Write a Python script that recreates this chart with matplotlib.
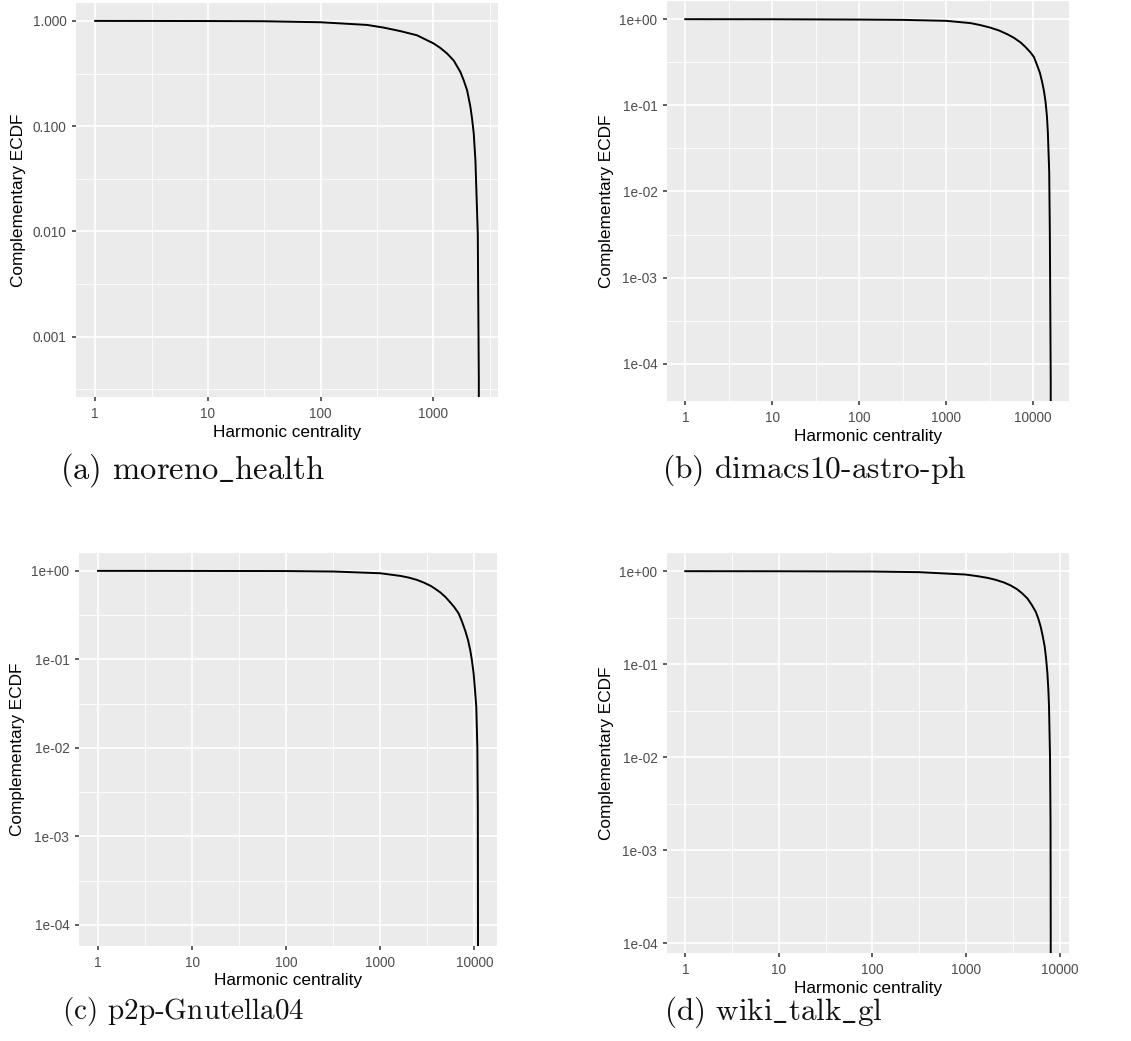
import numpy as np
import matplotlib
matplotlib.use('Agg')
import matplotlib.pyplot as plt
from matplotlib.ticker import FixedLocator, NullFormatter

plt.rcParams['font.family'] = ['Liberation Sans', 'DejaVu Sans']
plt.rcParams['mathtext.fontset'] = 'cm'

# complementary ECDF of harmonic centrality
moreno_x = [1, 3, 10, 31, 100, 258, 363, 511, 718, 1010, 1158, 1327, 1521, 1743, 1866, 2000,
            2140, 2214, 2290, 2370, 2487, 2540, 2540]
moreno_y = [1, 0.999, 0.997, 0.993, 0.971, 0.916, 0.864, 0.80, 0.73, 0.61, 0.553, 0.49, 0.42,
            0.327, 0.272, 0.219, 0.152, 0.117, 0.085, 0.047, 0.0094, 3.94e-4, 0]

astro_x = [1, 10, 100, 313, 1000, 1910, 2485, 3180, 4035, 5020, 5998, 7160, 8166, 9330, 10180,
           11120, 11940, 12690, 13270, 13860, 14360, 14730, 15270, 15530, 15900, 15900]
astro_y = [1, 0.998, 0.99, 0.982, 0.957, 0.90, 0.852, 0.80, 0.74, 0.67, 0.608, 0.537, 0.474,
           0.41, 0.364, 0.29, 0.238, 0.185, 0.148, 0.11, 0.076, 0.049, 0.017, 0.0034, 6.0e-5, 0]

gnutella_x = [1, 10, 100, 321, 1000, 1637, 2008, 2460, 2897, 3410, 3853, 4360, 4923, 5560, 6132,
              6820, 7396, 8020, 8570, 9070, 9440, 9840, 10160, 10500, 10780, 10900, 10950, 10950]
gnutella_y = [1, 0.998, 0.995, 0.983, 0.94, 0.877, 0.84, 0.79, 0.738, 0.68, 0.626, 0.57, 0.508,
              0.44, 0.389, 0.33, 0.268, 0.21, 0.166, 0.126, 0.097, 0.069, 0.046, 0.029, 0.01,
              0.0021, 9.2e-5, 0]

wiki_x = [1, 10, 100, 315, 992, 1321, 1690, 2074, 2545, 2999, 3535, 3993, 4520, 5023, 5550, 5916,
          6270, 6589, 6920, 7150, 7390, 7568, 7690, 7880, 7980, 8020, 8020]
wiki_y = [1, 0.998, 0.992, 0.976, 0.92, 0.884, 0.848, 0.807, 0.755, 0.702, 0.636, 0.575, 0.509,
          0.435, 0.366, 0.308, 0.252, 0.2, 0.154, 0.116, 0.08, 0.053, 0.035, 0.0102, 0.002,
          1.235e-4, 0]

captions = [r'$\text{(a) moreno}\_\text{health}$',
            r'$\text{(b) dimacs10-astro-ph}$',
            r'$\text{(c) p2p-Gnutella04}$',
            r'$\text{(d) wiki}\_\text{talk}\_\text{gl}$']

W, H = 1131, 1041

# pixel layout: axes box (l, t, r, b), ylabel x, xlabel y, caption (x, y, size)
layout = [
    ((76, 3, 498, 397), 18, 432, (60, 470, 23.5)),
    ((667, 1, 1069, 401), 607, 437, (662, 470, 22.7)),
    ((79, 553, 497, 946), 18, 980, (62, 1012, 21.0)),
    ((667, 553, 1069, 953), 607, 988, (664, 1012, 22.4)),
]


def fmt_y(k, fixed):
    if fixed:
        return f'{10.0**k:.3f}'
    return f'1e{k:+03d}'


def ggplot_lims(lo, hi):
    s = hi - lo
    return lo - 0.05 * s, hi + 0.05 * s


fig = plt.figure(figsize=(W / 100, H / 100), dpi=100)

panels = [(moreno_x, moreno_y, True), (astro_x, astro_y, False),
          (gnutella_x, gnutella_y, False), (wiki_x, wiki_y, False)]

for (x, y, fixed), ((l, t, r, b), ylx, xly, (cx, cy, cs)), cap in zip(panels, layout, captions):
    x = np.array(x, float)
    y = np.array(y, float)
    ax = fig.add_axes([l / W, 1 - b / H, (r - l) / W, (b - t) / H])
    ax.set_facecolor('#EBEBEB')
    ax.plot(x, y, color='black', lw=1.4, solid_joinstyle='round')
    ax.set_xscale('log')
    ax.set_yscale('log')

    xlo, xhi = ggplot_lims(np.log10(x.min()), np.log10(x.max()))
    ylo, yhi = ggplot_lims(np.log10(y[y > 0].min()), np.log10(y.max()))
    ax.set_xlim(10**xlo, 10**xhi)
    ax.set_ylim(10**ylo, 10**yhi)

    xk = [k for k in range(-6, 8) if xlo <= k <= xhi]
    yk = [k for k in range(-8, 3) if ylo <= k <= yhi]
    xm = [10**(k + 0.5) for k in range(-6, 8) if xlo <= k + 0.5 <= xhi]
    ym = [10**(k + 0.5) for k in range(-8, 3) if ylo <= k + 0.5 <= yhi]

    ax.xaxis.set_major_locator(FixedLocator([10.0**k for k in xk]))
    ax.yaxis.set_major_locator(FixedLocator([10.0**k for k in yk]))
    ax.xaxis.set_minor_locator(FixedLocator(xm))
    ax.yaxis.set_minor_locator(FixedLocator(ym))
    ax.xaxis.set_minor_formatter(NullFormatter())
    ax.yaxis.set_minor_formatter(NullFormatter())
    ax.set_xticklabels([str(10**k) for k in xk])
    ax.set_yticklabels([fmt_y(k, fixed) for k in yk])

    ax.grid(which='major', color='white', lw=1.2)
    ax.grid(which='minor', color='white', lw=0.6)
    ax.set_axisbelow(True)
    ax.tick_params(which='major', length=3, width=1.1, color='#333333',
                   labelcolor='#4D4D4D', labelsize=9.8, pad=4)
    ax.tick_params(which='minor', length=0)
    for s in ax.spines.values():
        s.set_visible(False)

    ax.set_xlabel('Harmonic centrality', fontsize=12.4, color='black')
    ax.set_ylabel('Complementary ECDF', fontsize=12.4, color='black')
    ax.xaxis.label.set_va('center')
    ax.yaxis.label.set_va('center')
    ax.xaxis.set_label_coords(0.5, (b - xly) / (b - t))
    ax.yaxis.set_label_coords((ylx - l) / (r - l), 0.5)

    fig.text(cx / W, 1 - cy / H, cap, fontsize=cs, ha='left', va='center',
             color='#111111')

fig.savefig('out.png', dpi=100)
